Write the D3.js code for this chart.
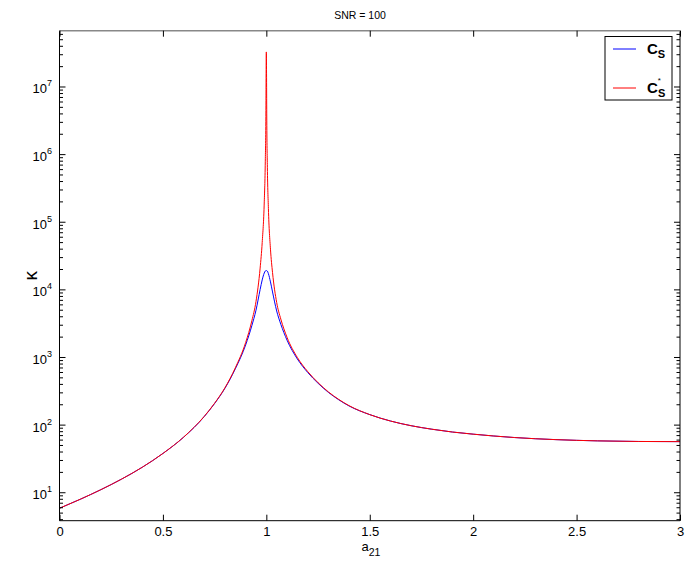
<!DOCTYPE html>
<html><head><meta charset="utf-8">
<script src="https://cdn.jsdelivr.net/npm/d3@7"></script>
<style>body{margin:0;background:#fff}svg{display:block;font-family:"Liberation Sans",Arial,Helvetica,sans-serif}</style>
</head><body>
<script>
// ---- data ----
const a21 = [0,0.1,0.2,0.3,0.4,0.5,0.6,0.7,0.75,0.8,0.85,0.9,0.93,0.95,0.97,0.98,0.99,0.995,0.998,0.999,1.0,1.001,1.002,1.005,1.01,1.02,1.03,1.05,1.07,1.1,1.15,1.2,1.25,1.3,1.35,1.4,1.5,1.6,1.7,1.8,1.9,2.0,2.2,2.4,2.6,2.8,3.0];
const csStar = [5.9,8.0,11.1,15.9,23.8,38.1,66.4,135,211,357,703,1663,3490,6730,21000,50000,200000,800000,4.5e6,1.8e7,3.3e7,1.6e7,4e6,6.5e5,1.6e5,40000,18000,6500,3700,1990,1000,620,425,310,240,194,143,115,98,87,79,73.5,65.5,61,58.5,57.3,57];
const cs = [5.9,8.0,11.1,15.9,23.8,38.1,66.2,134,209,351,679,1532,2960,5003,10111,14029,17768,19036,19250,19290,19300,19290,19250,18938,17382,13109,9314,4875,3105,1806,951,601,416,305,237,192,143,115,98,87,79,73.5,65.5,61,58.5,57.3,57];
const xTicks = [0,0.5,1,1.5,2,2.5,3];
const xTickLabels = ["0","0.5","1","1.5","2","2.5","3"];
const yExponents = [1,2,3,4,5,6,7];
const titleText = "SNR = 100";
const seriesNames = ["C","C"];

const W = 689, H = 567;
const L = 59.5, R = 680, T = 30.7, B = 520.7;
const svg = d3.select("body").append("svg").attr("width", W).attr("height", H);
svg.append("rect").attr("width", W).attr("height", H).attr("fill", "#fff");

const x = d3.scaleLinear().domain([0, 3]).range([L, R]);
const y = d3.scaleLog().domain([3.86, 6.8e7]).range([B, T]);

// curves
svg.append("clipPath").attr("id", "c").append("rect")
  .attr("x", L).attr("y", T).attr("width", R - L).attr("height", B - T);
const g = svg.append("g").attr("clip-path", "url(#c)");
const line = vals => d3.line().x((d, i) => x(a21[i])).y(d => y(d)).curve(d3.curveMonotoneX)(vals);
g.append("path").attr("d", line(cs)).attr("fill", "none").attr("stroke", "#0000ff").attr("stroke-width", 1);
g.append("path").attr("d", line(csStar)).attr("fill", "none").attr("stroke", "#ff0000").attr("stroke-width", 1);

// frame
svg.append("line").attr("x1", L).attr("x2", R).attr("y1", B).attr("y2", B).attr("stroke", "#000");
svg.append("line").attr("x1", L).attr("x2", L).attr("y1", T).attr("y2", B).attr("stroke", "#000");
svg.append("line").attr("x1", R).attr("x2", R).attr("y1", T).attr("y2", B).attr("stroke", "#000");
svg.append("line").attr("x1", L).attr("x2", R).attr("y1", T).attr("y2", T).attr("stroke", "#888").attr("stroke-width", 1.6);

// x axis (ticks inward, bottom and top)
const xb = d3.axisBottom(x).tickValues(xTicks).tickSizeInner(-6).tickSizeOuter(0).tickPadding(6)
  .tickFormat((d, i) => xTickLabels[i]);
const gxb = svg.append("g").attr("transform", `translate(0,${B})`).call(xb);
gxb.select(".domain").remove();
gxb.selectAll("text").attr("font-size", 13).attr("fill", "#000").attr("font-family", "Liberation Sans, Arial, sans-serif");
const xt = d3.axisTop(x).tickValues(xTicks).tickSizeInner(-6).tickSizeOuter(0).tickFormat("");
const gxt = svg.append("g").attr("transform", `translate(0,${T})`).call(xt);
gxt.select(".domain").remove();

// y axis: majors and minors on both sides
const allTicks = y.ticks().filter(v => v >= y.domain()[0] && v <= y.domain()[1]);
const majors = yExponents.map(e => Math.pow(10, e));
const isMajor = v => majors.some(m => Math.abs(v - m) / m < 1e-9);
const minors = allTicks.filter(v => !isMajor(v));
function yTicks(side) {
  const sign = side === "left" ? 1 : -1;
  const x0 = side === "left" ? L : R;
  const gg = svg.append("g");
  gg.selectAll(".mj").data(majors).join("line")
    .attr("x1", x0).attr("x2", x0 + sign * 6).attr("y1", d => y(d)).attr("y2", d => y(d)).attr("stroke", "#000");
  gg.selectAll(".mn").data(minors).join("line")
    .attr("x1", x0).attr("x2", x0 + sign * 3.5).attr("y1", d => y(d)).attr("y2", d => y(d)).attr("stroke", "#000");
}
yTicks("left"); yTicks("right");
const yl = svg.append("g");
yExponents.forEach(e => {
  const t = yl.append("text").attr("x", L - 7.5).attr("y", y(Math.pow(10, e)) + 6.5)
    .attr("text-anchor", "end").attr("font-size", 13).attr("fill", "#000");
  t.append("tspan").text("10");
  t.append("tspan").attr("dy", -7).attr("font-size", 9).text(String(e));
});

// title and axis labels
svg.append("text").attr("x", 360).attr("y", 19).attr("text-anchor", "middle").attr("font-size", 10.5).text(titleText);
const xlab = svg.append("text").attr("x", 371).attr("y", 551).attr("text-anchor", "middle").attr("font-size", 13);
xlab.append("tspan").text("a");
xlab.append("tspan").attr("dy", 5).attr("font-size", 10.5).text("21");
svg.append("text").attr("transform", `translate(37,${(T + B) / 2}) rotate(-90)`).attr("text-anchor", "middle")
  .attr("font-size", 19).text("κ");

// legend
const lg = svg.append("g");
lg.append("rect").attr("x", 605).attr("y", 36.5).attr("width", 67).attr("height", 63.5)
  .attr("fill", "#fff").attr("stroke", "#000");
const colors = ["#0000ff", "#ff0000"];
const ly = [49, 88];
seriesNames.forEach((n, i) => {
  lg.append("line").attr("x1", 613).attr("x2", 636).attr("y1", ly[i]).attr("y2", ly[i]).attr("stroke", colors[i]);
  const t = lg.append("text").attr("x", 647).attr("y", ly[i] + 5).attr("font-size", 15).attr("font-weight", "bold");
  t.append("tspan").text(n);
  if (i === 1) {
    t.append("tspan").attr("dy", -10).attr("font-size", 8).attr("font-weight", "normal").text("*");
    t.append("tspan").attr("x", 658).attr("dy", 14).attr("font-size", 11).text("S");
  } else {
    t.append("tspan").attr("dy", 4).attr("font-size", 11).text("S");
  }
});
</script>
</body></html>
